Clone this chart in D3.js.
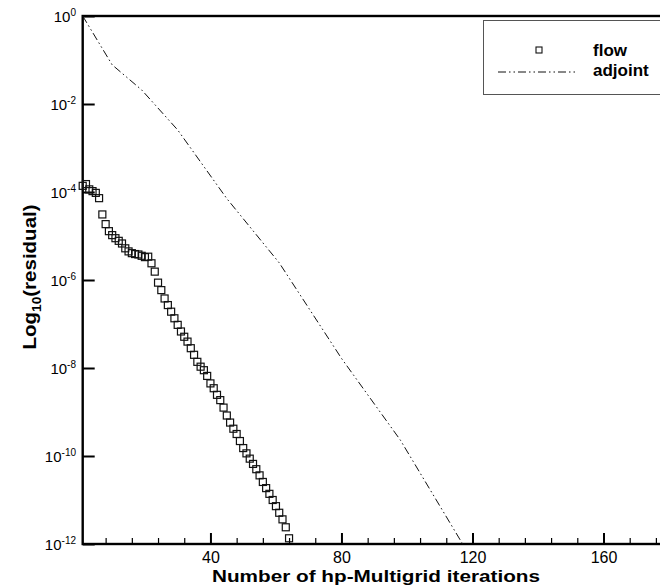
<!DOCTYPE html>
<html>
<head>
  <meta charset="utf-8">
  <script src="https://d3js.org/d3.v7.min.js"></script>
  <style>
    body { margin: 0; background: #fff; }
    svg { display: block; font-family: "Liberation Sans", Arial, Helvetica, sans-serif; }
  </style>
</head>
<body>
    <div id="chart"></div>
</body>

<script>

    // log10 of the residual, one value per iteration
    const flowIter = d3.range(1, 65)
    const flowLog = [
        -3.86, -3.82, -3.94, -3.98, -4.02, -4.14, -4.51, -4.73, -4.89, -4.98,
        -5.05, -5.11, -5.17, -5.28, -5.35, -5.39, -5.41, -5.42, -5.45, -5.48,
        -5.47, -5.62, -5.81, -6.06, -6.23, -6.42, -6.57, -6.72, -6.87, -7.02,
        -7.17, -7.29, -7.40, -7.55, -7.70, -7.86, -7.97, -8.05, -8.18, -8.35,
        -8.46, -8.61, -8.73, -8.90, -9.08, -9.24, -9.38, -9.50, -9.66, -9.82,
        -9.94, -10.06, -10.18, -10.30, -10.44, -10.59, -10.73, -10.86, -11.00, -11.14,
        -11.29, -11.44, -11.62, -11.87
    ]

    const adjointIter = [1, 10, 19, 30, 45, 61, 80, 98, 117]
    const adjointLog = [0, -1.11, -1.68, -2.59, -4.15, -5.61, -7.78, -9.64, -12.0]

    const xMajorTicks = [40, 80, 120, 160]
    const xMinorTicks = [8, 16, 24, 32, 48, 56, 64, 72, 88, 96, 104, 112, 128, 136, 144, 152, 168, 176]
    const yTickExp = [0, -2, -4, -6, -8, -10, -12]

    const legendLabels = ['flow', 'adjoint']

    function createChart() {

        const width = 660,
            height = 588

        const margin = { top: 16, left: 82.7, bottom: 44 },
            plotRight = 669,
            plotBottom = height - margin.bottom

        var xScale = d3.scaleLinear()
            .domain([1, 180])
            .range([margin.left, plotRight])

        var yScale = d3.scaleLog()
            .domain([1, 1e-12])
            .range([margin.top, plotBottom])

        var svg = d3.select('#chart').append('svg')
            .attr('width', width)
            .attr('height', height)

        // x axis, ticks pointing into the plot
        svg.append('g')
            .attr('transform', `translate(0, ${plotBottom})`)
            .call(d3.axisBottom(xScale)
                .tickValues(xMinorTicks)
                .tickSize(-6)
                .tickSizeOuter(0)
                .tickFormat(''))
            .call(g => g.select('.domain').remove())
            .selectAll('line').attr('stroke', '#000').attr('stroke-width', 1.2)

        svg.append('g')
            .attr('transform', `translate(0, ${plotBottom})`)
            .call(d3.axisBottom(xScale)
                .tickValues(xMajorTicks)
                .tickSize(-11)
                .tickSizeOuter(0)
                .tickPadding(7.5))
            .call(g => g.select('.domain').remove())
            .call(g => g.selectAll('line').attr('stroke', '#000').attr('stroke-width', 2))
            .call(g => g.selectAll('text')
                .attr('fill', '#000')
                .attr('font-size', 16)
                .attr('font-family', '"Liberation Sans", Arial, sans-serif'))

        // y axis
        svg.append('g')
            .attr('transform', `translate(${margin.left}, 0)`)
            .call(d3.axisLeft(yScale)
                .tickValues(yTickExp.map(e => Math.pow(10, e)))
                .tickSize(-12)
                .tickSizeOuter(0)
                .tickFormat(''))
            .call(g => g.select('.domain').remove())
            .selectAll('line').attr('stroke', '#000').attr('stroke-width', 2)

        var yLabels = svg.append('g').selectAll('text')
            .data(yTickExp).enter()
            .append('text')
            .attr('x', 76)
            .attr('y', d => yScale(Math.pow(10, d)) + 6)
            .attr('text-anchor', 'end')
            .attr('font-size', 15)
        yLabels.append('tspan').text('10')
        yLabels.append('tspan')
            .attr('font-size', 10)
            .attr('dy', -6)
            .text(d => d === 0 ? '0' : '-' + Math.abs(d))

        // frame
        svg.append('rect')
            .attr('x', margin.left)
            .attr('y', margin.top)
            .attr('width', plotRight - margin.left)
            .attr('height', plotBottom - margin.top)
            .attr('fill', 'none')
            .attr('stroke', '#000')
            .attr('stroke-width', 2.4)

        // adjoint line
        var line = d3.line()
            .x(d => xScale(d[0]))
            .y(d => yScale(Math.pow(10, d[1])))

        svg.append('path')
            .datum(d3.zip(adjointIter, adjointLog))
            .attr('d', line)
            .attr('fill', 'none')
            .attr('stroke', '#111')
            .attr('stroke-width', 1)
            .attr('stroke-dasharray', '8,3,1.5,3,1.5,3')

        // flow markers
        const sq = 7
        svg.append('g').selectAll('rect')
            .data(d3.zip(flowIter, flowLog)).enter()
            .append('rect')
            .attr('x', d => xScale(d[0]) - sq / 2)
            .attr('y', d => yScale(Math.pow(10, d[1])) - sq / 2)
            .attr('width', sq)
            .attr('height', sq)
            .attr('fill', 'none')
            .attr('stroke', '#111')
            .attr('stroke-width', 1.2)

        // axis titles
        svg.append('text')
            .attr('x', 212)
            .attr('y', 582)
            .attr('font-size', 17)
            .attr('font-weight', 'bold')
            .attr('textLength', 328)
            .attr('lengthAdjust', 'spacingAndGlyphs')
            .text('Number of hp-Multigrid iterations')

        var yTitle = svg.append('text')
            .attr('transform', 'translate(36, 277) rotate(-90) scale(1.14, 1)')
            .attr('text-anchor', 'middle')
            .attr('font-size', 18)
            .attr('font-weight', 'bold')
        yTitle.append('tspan').text('Log')
        yTitle.append('tspan').attr('font-size', 12).attr('dy', 5).text('10')
        yTitle.append('tspan').attr('dy', -5).text('(residual)')

        // legend
        var legend = svg.append('g')
        legend.append('rect')
            .attr('x', 483.5)
            .attr('y', 20.5)
            .attr('width', 200)
            .attr('height', 74)
            .attr('fill', '#fff')
            .attr('stroke', '#555')
            .attr('stroke-width', 1)

        legend.append('rect')
            .attr('x', 539 - 3)
            .attr('y', 50 - 3)
            .attr('width', 6)
            .attr('height', 6)
            .attr('fill', 'none')
            .attr('stroke', '#111')
            .attr('stroke-width', 1.1)

        legend.append('line')
            .attr('x1', 498)
            .attr('x2', 578)
            .attr('y1', 72)
            .attr('y2', 72)
            .attr('stroke', '#111')
            .attr('stroke-width', 1)
            .attr('stroke-dasharray', '8,3,1.5,3,1.5,3')

        legend.selectAll('text.lab')
            .data(legendLabels).enter()
            .append('text')
            .attr('class', 'lab')
            .attr('x', 593)
            .attr('y', (d, i) => 56 + i * 20)
            .attr('font-size', 17)
            .attr('font-weight', 'bold')
            .text(d => d)
    }

    createChart()

</script>
</html>
